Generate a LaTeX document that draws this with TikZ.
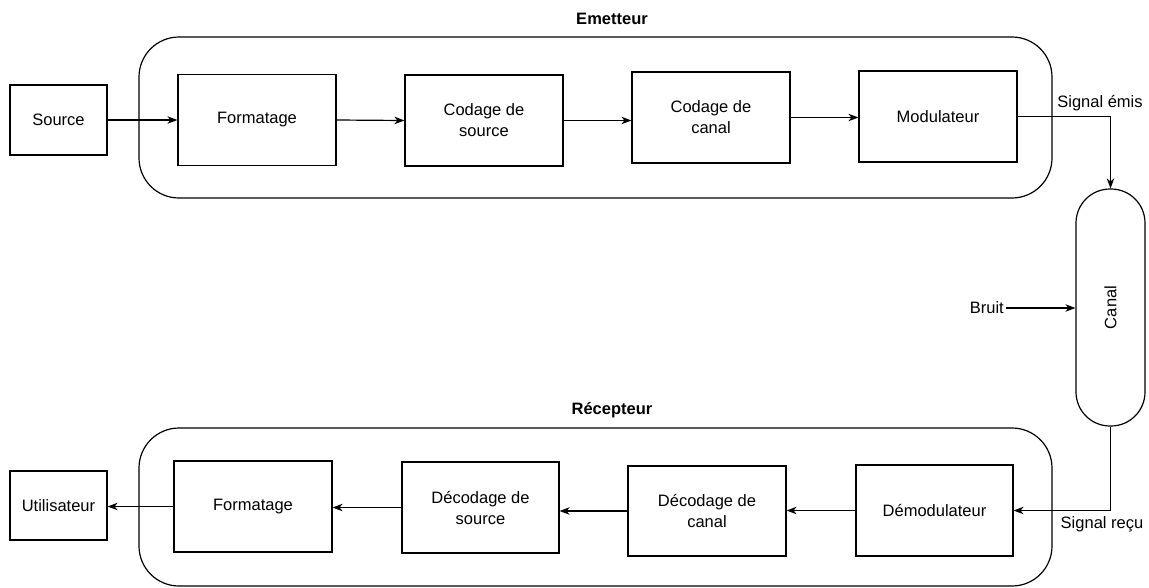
\documentclass[tikz,border=0pt]{standalone}
\usepackage{fontspec}
\setmainfont{Liberation Sans}
\usetikzlibrary{arrows.meta}
\begin{document}
\begin{tikzpicture}[x=1pt,y=1pt,
  every node/.style={font=\fontsize{16.5}{21}\selectfont},
  blk/.style={draw, line width=1.2pt, rectangle, inner sep=0pt, align=center, minimum width=158pt, minimum height=91pt},
  ext/.style={draw, line width=1.2pt, rectangle, inner sep=0pt, align=center, minimum width=97pt, minimum height=70pt},
  grp/.style={draw, line width=1.2pt, rounded corners=40pt},
  ttl/.style={font=\fontsize{16.5}{21}\selectfont\bfseries},
  lbl/.style={inner sep=0pt},
  conn/.style={line width=1.2pt, -{Stealth[length=10pt,width=7.5pt,inset=3pt]}}
]
\useasboundingbox (0,0) rectangle (1149,-587);
% groups
\draw[grp] (139,-37) rectangle (1052,-198);
\node[ttl] (emt) at (612,-19) {Emetteur};
\draw[grp] (139,-428) rectangle (1052,-586);
\node[ttl] (rct) at (612,-410) {Récepteur};
% emitter chain
\node[ext] (src) at (58.5,-120) {Source};
\node[blk] (fmt1) at (257,-120) {Formatage};
\node[blk] (cs) at (484,-120.5) {Codage de\\source};
\node[blk] (cc) at (711,-117.5) {Codage de\\canal};
\node[blk] (mod) at (938,-116.5) {Modulateur};
% canal
\node[draw, line width=1.2pt, rectangle, rounded corners=34pt, minimum width=69pt, minimum height=237pt, inner sep=0pt] (can) at (1110.5,-307.5) {};
\node[rotate=90] (cantxt) at (can.center) {Canal};
\node[lbl, anchor=east] (bruit) at (1004,-308) {Bruit};
% receiver chain
\node[ext, minimum height=69pt] (ut) at (58.5,-505.5) {Utilisateur};
\node[blk] (fmt2) at (253,-506.5) {Formatage};
\node[blk, minimum width=157pt] (ds) at (480.5,-507.5) {Décodage de\\source};
\node[blk, minimum height=90pt] (dc) at (707,-511) {Décodage de\\canal};
\node[blk, minimum width=157pt] (dm) at (934.5,-510.5) {Démodulateur};
% labels
\node[lbl] (se) at (1100,-103) {Signal émis};
\node[lbl] (sr) at (1102,-524) {Signal reçu};
% connectors
\draw[conn] (src.east) -- (fmt1.west);
\draw[conn] (fmt1.east) -- (cs.west);
\draw[conn] (cs.east) -- (cs.east -| cc.west);
\draw[conn] (cc.east) -- (cc.east -| mod.west);
\draw[conn] (mod.east) -| (can.north);
\draw[conn] (bruit.east) ++(2,0) -- (bruit.east -| can.west);
\draw[conn] (can.south) |- (dm.east);
\draw[conn] (dm.west) -- (dm.west -| dc.east);
\draw[conn] (dc.west) -- (dc.west -| ds.east);
\draw[conn] (ds.west) -- (ds.west -| fmt2.east);
\draw[conn] (fmt2.west) -- (fmt2.west -| ut.east);
\end{tikzpicture}
\end{document}
